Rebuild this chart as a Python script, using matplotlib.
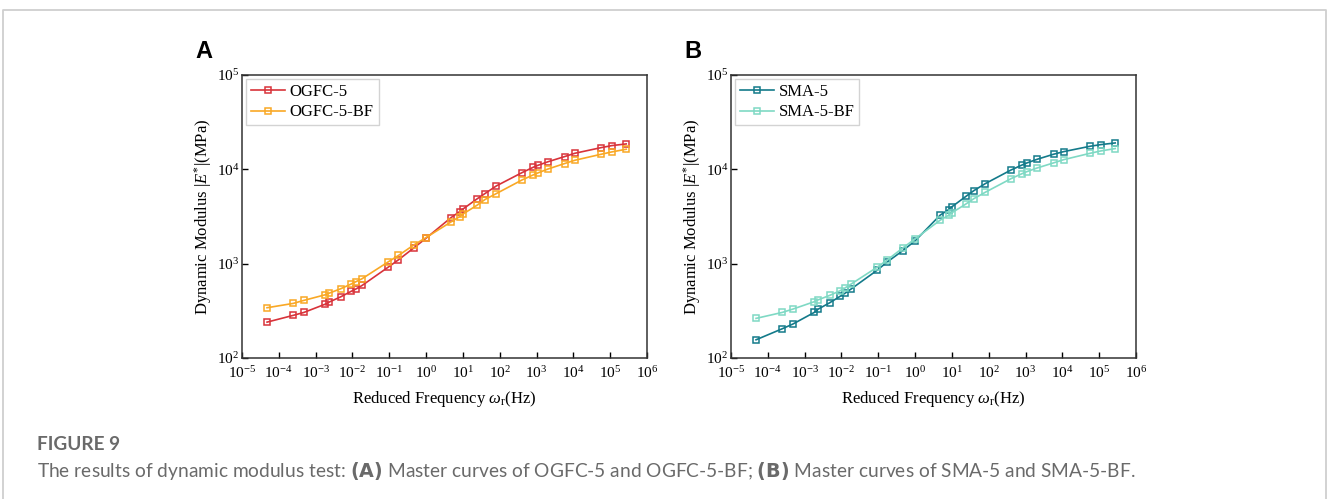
import matplotlib.pyplot as plt
import numpy as np

# reduced frequency (log10 Hz), same grid for all four curves
logf = [-4.32, -3.61, -3.32, -2.74, -2.63, -2.32, -2.04, -1.91, -1.74,
        -1.04, -0.75, -0.34, 0.0, 0.68, 0.915, 0.996, 1.386, 1.60, 1.91,
        2.61, 2.91, 3.04, 3.32, 3.76, 4.04, 4.755, 5.045, 5.435]

ogfc5 = [240, 283, 304, 372, 392, 445, 508, 538, 587, 912, 1099, 1462, 1863,
         3083, 3570, 3781, 4868, 5540, 6677, 9247, 10520, 11040, 12070, 13640,
         14800, 16990, 17850, 18590]
ogfc5bf = [341, 379, 408, 468, 487, 542, 607, 643, 692, 1038, 1222, 1572, 1893,
           2774, 3160, 3348, 4170, 4788, 5540, 7730, 8730, 9170, 10110, 11510,
           12480, 14450, 15300, 16330]
sma5 = [156, 204, 229, 304, 330, 385, 450, 484, 538, 847, 1047, 1369, 1746,
        3266, 3751, 4000, 5186, 5960, 7068, 9860, 11140, 11700, 12800, 14450,
        15420, 17570, 18290, 19040]
sma5bf = [263, 304, 330, 395, 414, 461, 516, 551, 607, 912, 1099, 1462, 1833,
          2890, 3266, 3459, 4306, 4898, 5724, 7980, 9018, 9466, 10350, 11700,
          12680, 14800, 15670, 16600]

xticks = [10.0**k for k in range(-5, 7)]
xticklabels = [r"$10^{%d}$" % k for k in range(-5, 7)]

freq = 10**np.array(logf)

plt.rcParams['font.family'] = ['Liberation Serif', 'DejaVu Serif']
plt.rcParams['mathtext.fontset'] = 'custom'
plt.rcParams['mathtext.rm'] = 'Liberation Serif'
plt.rcParams['mathtext.it'] = 'Liberation Serif:italic'

fig = plt.figure(figsize=(13.28, 4.99), dpi=100)

# outer border of the figure box
fig.add_artist(plt.Line2D([0.0025, 0.0025, 0.9985, 0.9985], [0.0, 0.980, 0.980, 0.0],
                          transform=fig.transFigure, color='#cfcfcf', lw=1.3))

panels = [
    ("A", 242, ogfc5, ogfc5bf, "OGFC-5", "OGFC-5-BF", '#d8333a', '#f9a825'),
    ("B", 731, sma5, sma5bf, "SMA-5", "SMA-5-BF", '#137a8a', '#7fd9c4'),
]

for letter, left_px, s1, s2, n1, n2, c1, c2 in panels:
    ax = fig.add_axes([left_px/1328, (499-358)/499, 405/1328, 283/499])
    ax.plot(freq, s1, color=c1, marker='s', mfc='none', ms=5, mew=1.1, lw=1.2, label=n1)
    ax.plot(freq, s2, color=c2, marker='s', mfc='none', ms=5, mew=1.1, lw=1.2, label=n2)
    ax.set_xscale('log')
    ax.set_yscale('log')
    ax.set_xlim(1e-5, 1e6)
    ax.set_ylim(1e2, 1e5)
    ax.set_xticks(xticks)
    ax.set_xticklabels(xticklabels)
    ax.minorticks_off()
    ax.tick_params(direction='in', length=4, width=1, labelsize=11, pad=3)
    ax.tick_params(axis='x', pad=5)
    ax.tick_params(axis='y', pad=2)
    for sp in ax.spines.values():
        sp.set_linewidth(1.1)
        sp.set_color('#333333')
    ax.set_xlabel(r"Reduced Frequency $\omega_{\rm r}$(Hz)", fontsize=12, labelpad=6)
    ax.set_ylabel(r"Dynamic Modulus |$E^{*}$|(MPa)", fontsize=12, labelpad=2)
    leg = ax.legend(loc='upper left', fontsize=12, frameon=True, fancybox=False,
                    borderaxespad=0.25, handlelength=2.0, labelspacing=0.25,
                    borderpad=0.3, handletextpad=0.3)
    leg.get_frame().set_edgecolor('#c8c8c8')
    leg.get_frame().set_linewidth(1.0)
    fig.text((left_px - 47)/1328, 1 - 52/499, letter, fontsize=17, fontweight='bold',
             family='Liberation Sans', va='center', ha='left')

fig.text(37/1328, 1 - 445/499, "FIGURE 9", fontsize=13.7, fontweight='bold',
         family='Lato', color='#6a6a6a', va='center', ha='left')
fig.text(37/1328, 1 - 471/499,
         r"The results of dynamic modulus test: $\bf{(A)}$ Master curves of OGFC-5 and OGFC-5-BF; "
         r"$\bf{(B)}$ Master curves of SMA-5 and SMA-5-BF.",
         fontsize=13.8, family='Lato', color='#6a6a6a', va='center', ha='left')

fig.savefig("out.png", dpi=100)
